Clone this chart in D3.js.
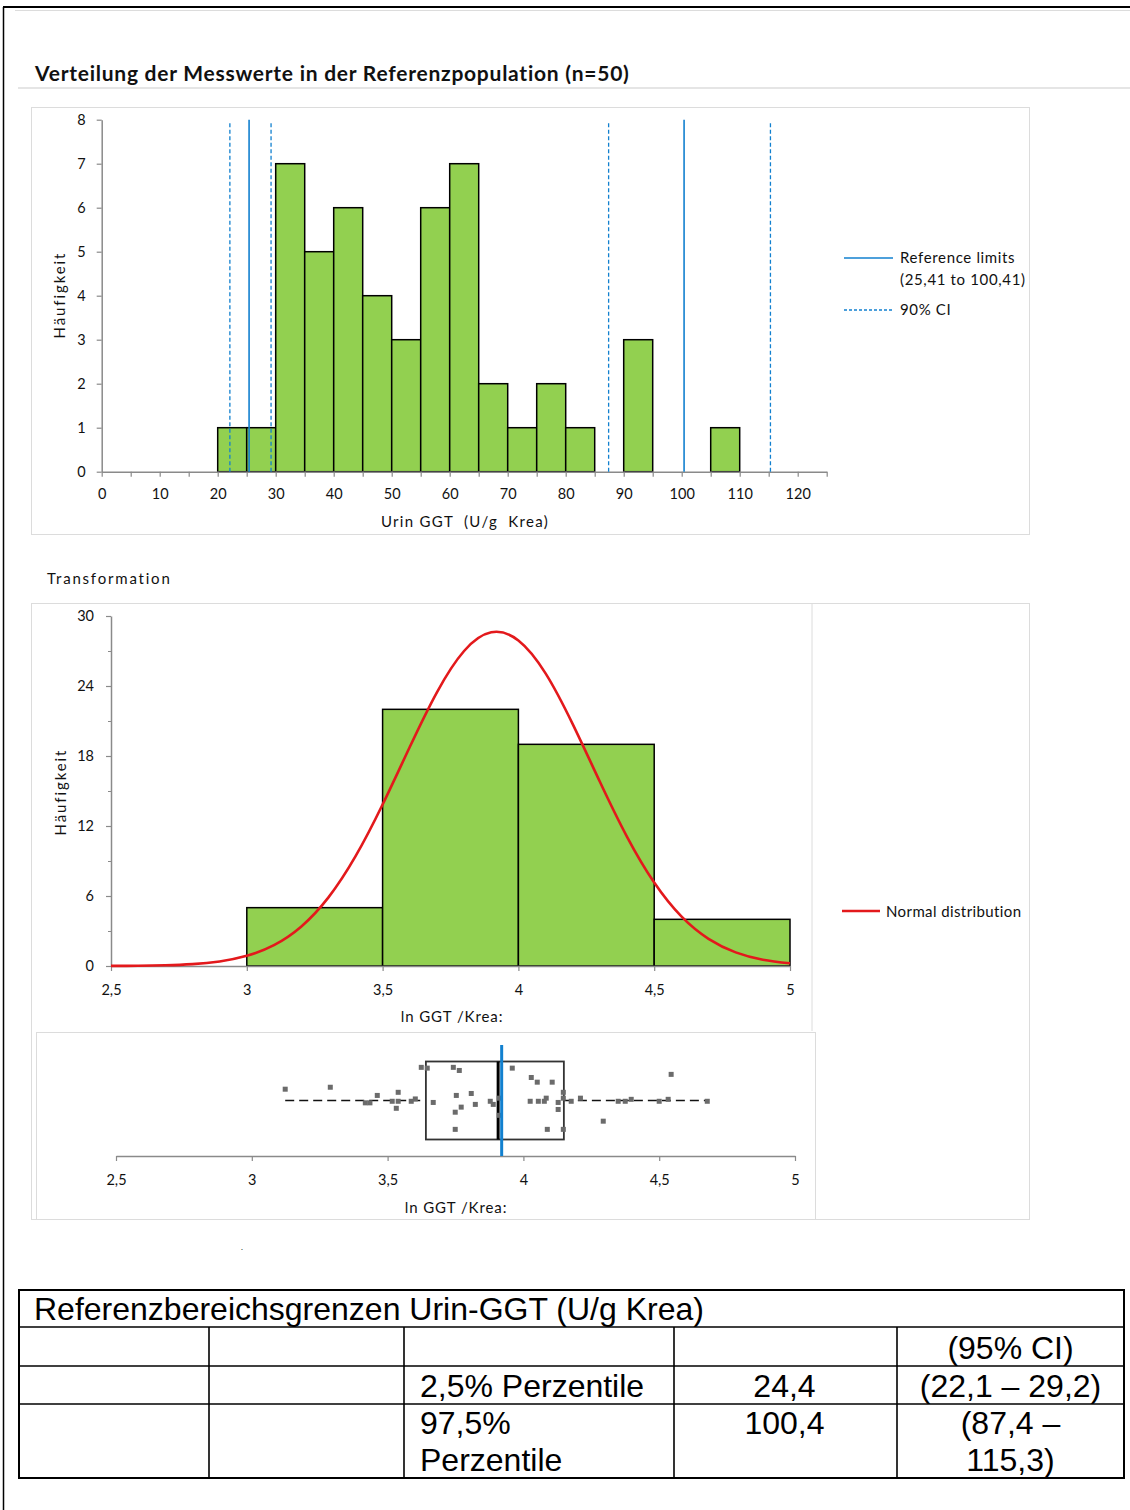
<!DOCTYPE html>
<html>
<head>
<meta charset="utf-8">
<script src="https://cdn.jsdelivr.net/npm/d3@7"></script>
<style>
  body { margin: 0; background: #fff; }
  svg text { font-family: Lato, "Open Sans", sans-serif; fill: #111; }
  .tbl text { font-family: "Liberation Sans", Arial, sans-serif; fill: #000; }
</style>
</head>
<body>
<svg id="page" width="1130" height="1510"></svg>
<script>
// ---- Raw values: histogram of Urin GGT (bins of 5 U/g Krea) ----
const rawBinStarts = [20, 25, 30, 35, 40, 45, 50, 55, 60, 65, 70, 75, 80, 85, 90, 95, 100, 105];
const rawCounts    = [ 1,  1,  7,  5,  6,  4,  3,  6,  7,  2,  1,  2,  1,  0,  3,  0,   0,   1];
const rawBinWidth  = 5;
const rawXTickValues = d3.range(0, 126, 5);
const rawYTickValues = [0, 1, 2, 3, 4, 5, 6, 7, 8];
const referenceLimits = [25.41, 100.41];
const ciBounds = [22.1, 29.2, 87.4, 115.3];

// ---- ln-transformed values: histogram + fitted normal curve ----
const lnBinStarts = [3, 3.5, 4, 4.5];
const lnCounts    = [5, 22, 19, 4];
const lnBinWidth  = 0.5;
const lnXTickValues = [2.5, 3, 3.5, 4, 4.5, 5];
const lnYTickValues = [0, 6, 12, 18, 24, 30];
const lnYMinorTicks = [3, 9, 15, 21, 27];
const normalX = [2.5, 2.6, 2.7, 2.8, 2.9, 3.0, 3.1, 3.2, 3.3, 3.4, 3.5, 3.6, 3.7, 3.8, 3.9,
                 4.0, 4.1, 4.2, 4.3, 4.4, 4.5, 4.6, 4.7, 4.8, 4.9, 5.0];
const normalY = [0.01, 0.02, 0.06, 0.16, 0.39, 0.87, 1.79, 3.37, 5.86, 9.39, 13.84, 18.77, 23.46, 27.0, 28.6,
                 27.9, 25.08, 20.73, 15.79, 11.07, 7.15, 4.25, 2.33, 1.17, 0.54, 0.23];

// ---- Box plot of ln values with jittered points ----
const lnValues = [3.123, 3.289, 3.418, 3.435, 3.462, 3.517, 3.532, 3.539, 3.539, 3.587,
                  3.602, 3.624, 3.646, 3.668, 3.742, 3.764, 3.753, 3.808, 3.771, 3.749,
                  3.823, 3.749, 3.878, 3.889, 3.911, 3.911, 3.959, 4.029, 4.051, 4.106,
                  4.025, 4.055, 4.077, 4.084, 4.088, 4.128, 4.128, 4.147, 4.147, 4.147,
                  4.176, 4.210, 4.294, 4.349, 4.375, 4.397, 4.500, 4.533, 4.544, 4.677];
const lnJitter = [0.29, 0.34, -0.06, -0.06, 0.13, -0.02, -0.20, 0.21, -0.02, -0.02,
                  0.04, 0.85, 0.83, -0.05, 0.85, 0.77, 0.13, 0.18, -0.17, -0.30,
                  -0.10, -0.74, -0.02, -0.10, 0.06, -0.38, 0.83, 0.59, 0.47, 0.47,
                  -0.02, -0.02, -0.02, 0.06, -0.74, -0.05, -0.23, 0.21, 0.06, -0.74,
                  -0.02, 0.06, -0.53, -0.02, -0.02, 0.03, -0.02, 0.03, 0.67, -0.02];
const boxQuartiles = [3.641, 3.907, 4.149];   // Q1, median, Q3
const whiskerEnds  = [3.123, 4.677];
const lnMean = 3.92;

// ---- Reference interval table ----
const tableTitle = "Referenzbereichsgrenzen Urin-GGT (U/g Krea)";
const tableHeader = ["", "", "", "", "(95% CI)"];
const tableRows = [
  ["", "", ["2,5% Perzentile"], ["24,4"], ["(22,1 \u2013 29,2)"]],
  ["", "", ["97,5%", "Perzentile"], ["100,4"], ["(87,4 \u2013", "115,3)"]]
];

const de = d3.formatLocale({ decimal: ",", thousands: ".", grouping: [3], currency: ["", " \u20ac"] });
const fmt = de.format("~g");

const svg = d3.select("#page");
const axisGray = "#8a8a8a";
const frameGray = "#dcdcdc";
const green = "#92d050";
const blue = "#1280cf";
const red = "#e3191c";

// ---------- page frame ----------
svg.append("line").attr("x1", 3).attr("x2", 1130).attr("y1", 7).attr("y2", 7).attr("stroke", "#000").attr("stroke-width", 2);
svg.append("line").attr("x1", 3.5).attr("x2", 3.5).attr("y1", 7).attr("y2", 1510).attr("stroke", "#000").attr("stroke-width", 1.5);
svg.append("line").attr("x1", 15).attr("x2", 1130).attr("y1", 10.5).attr("y2", 10.5).attr("stroke", frameGray).attr("stroke-width", 1);
svg.append("line").attr("x1", 18).attr("x2", 1130).attr("y1", 88).attr("y2", 88).attr("stroke", frameGray).attr("stroke-width", 1.5);

svg.append("text").attr("x", 35).attr("y", 81)
  .style("font-size", "21px").style("font-weight", 700).style("letter-spacing", "0.75px")
  .text("Verteilung der Messwerte in der Referenzpopulation (n=50)");

function styleAxis(g) {
  g.select(".domain").attr("stroke", axisGray).attr("stroke-width", 1.5);
  g.selectAll(".tick line").attr("stroke", axisGray).attr("stroke-width", 1.2);
  g.selectAll(".tick text").style("font-size", "14.5px").style("font-family", "Lato, sans-serif").attr("fill", "#111");
}

// ---------- Chart 1: raw histogram ----------
svg.append("rect").attr("x", 31.5).attr("y", 107.5).attr("width", 998).attr("height", 427)
  .attr("fill", "none").attr("stroke", frameGray);

const x1 = d3.scaleLinear().domain([0, 125]).range([101.7, 826.7]);
const y1 = d3.scaleLinear().domain([0, 8]).range([471.7, 119.7]);

svg.append("g").selectAll("rect").data(rawBinStarts.map((s, i) => ({ s, c: rawCounts[i] })).filter(d => d.c > 0))
  .join("rect")
  .attr("x", d => x1(d.s)).attr("width", d => x1(d.s + rawBinWidth) - x1(d.s))
  .attr("y", d => y1(d.c)).attr("height", d => y1(0) - y1(d.c))
  .attr("fill", green).attr("stroke", "#000").attr("stroke-width", 1.5);

const gx1 = svg.append("g").attr("transform", `translate(0,${y1(0)})`)
  .call(d3.axisBottom(x1).tickValues(rawXTickValues).tickSize(5).tickSizeOuter(0).tickPadding(12)
    .tickFormat(d => d % 10 === 0 ? fmt(d) : ""));
styleAxis(gx1);
const gy1 = svg.append("g").attr("transform", `translate(${x1(0)},0)`)
  .call(d3.axisLeft(y1).tickValues(rawYTickValues).tickSize(5).tickSizeOuter(0).tickPadding(11).tickFormat(fmt));
styleAxis(gy1);

// reference limits (solid) and their 90% confidence bounds (dashed)
svg.append("g").selectAll("line").data(referenceLimits).join("line")
  .attr("x1", d => x1(d)).attr("x2", d => x1(d))
  .attr("y1", y1(0)).attr("y2", y1(8))
  .attr("stroke", blue).attr("stroke-width", 1.6);
svg.append("g").selectAll("line").data(ciBounds).join("line")
  .attr("x1", d => x1(d)).attr("x2", d => x1(d))
  .attr("y1", y1(0)).attr("y2", y1(8) + 3)
  .attr("stroke", blue).attr("stroke-width", 1.3).attr("stroke-dasharray", "4,2.5");

svg.append("text").attr("transform", "translate(65,295) rotate(-90)").attr("text-anchor", "middle")
  .style("font-size", "15px").style("letter-spacing", "1.9px").text("Häufigkeit");
svg.append("text").attr("x", 465).attr("y", 527).attr("text-anchor", "middle")
  .style("font-size", "15px").style("letter-spacing", "1.3px").style("white-space", "pre")
  .text("Urin GGT  (U/g  Krea)");

// legend 1
svg.append("line").attr("x1", 844).attr("x2", 893).attr("y1", 258).attr("y2", 258).attr("stroke", blue).attr("stroke-width", 1.6);
svg.append("line").attr("x1", 844).attr("x2", 893).attr("y1", 310).attr("y2", 310).attr("stroke", blue).attr("stroke-width", 1.3).attr("stroke-dasharray", "3,2");
const leg1 = svg.append("g").style("font-size", "15px").style("letter-spacing", "0.65px");
leg1.append("text").attr("x", 900).attr("y", 263).text("Reference limits");
leg1.append("text").attr("x", 900).attr("y", 285).text("(25,41 to 100,41)");
leg1.append("text").attr("x", 900).attr("y", 315).text("90% CI");

// ---------- Chart 2: ln-transformed histogram ----------
svg.append("text").attr("x", 47).attr("y", 584).style("font-size", "15px").style("letter-spacing", "1.8px").text("Transformation");

svg.append("rect").attr("x", 31.5).attr("y", 603.5).attr("width", 998).attr("height", 616)
  .attr("fill", "none").attr("stroke", frameGray);
svg.append("line").attr("x1", 812).attr("x2", 812).attr("y1", 603.5).attr("y2", 1031).attr("stroke", frameGray);

const x2 = d3.scaleLinear().domain([2.5, 5]).range([111, 790]);
const y2 = d3.scaleLinear().domain([0, 30]).range([966, 616]);

svg.append("g").selectAll("rect").data(lnBinStarts.map((s, i) => ({ s, c: lnCounts[i] })))
  .join("rect")
  .attr("x", d => x2(d.s)).attr("width", d => x2(d.s + lnBinWidth) - x2(d.s))
  .attr("y", d => y2(d.c)).attr("height", d => y2(0) - y2(d.c))
  .attr("fill", green).attr("stroke", "#000").attr("stroke-width", 1.5);

const gx2 = svg.append("g").attr("transform", `translate(0,${y2(0)})`)
  .call(d3.axisBottom(x2).tickValues(lnXTickValues).tickSize(5).tickSizeOuter(0).tickPadding(14).tickFormat(fmt));
styleAxis(gx2);
const gy2 = svg.append("g").attr("transform", `translate(${x2(2.5)},0)`)
  .call(d3.axisLeft(y2).tickValues(lnYTickValues).tickSize(5).tickSizeOuter(0).tickPadding(12).tickFormat(fmt));
styleAxis(gy2);
svg.append("g").attr("transform", `translate(${x2(2.5)},0)`)
  .call(d3.axisLeft(y2).tickValues(lnYMinorTicks).tickSize(3).tickFormat(""))
  .call(g => { g.select(".domain").remove(); g.selectAll(".tick line").attr("stroke", axisGray); });

const normalLine = d3.line().x(d => x2(d[0])).y(d => y2(d[1])).curve(d3.curveNatural);
svg.append("path").datum(normalX.map((x, i) => [x, normalY[i]]))
  .attr("d", normalLine).attr("fill", "none").attr("stroke", red).attr("stroke-width", 2.6);

svg.append("text").attr("transform", "translate(66,792) rotate(-90)").attr("text-anchor", "middle")
  .style("font-size", "15px").style("letter-spacing", "1.9px").text("Häufigkeit");
svg.append("text").attr("x", 452).attr("y", 1022).attr("text-anchor", "middle")
  .style("font-size", "15px").style("letter-spacing", "0.9px").text("ln GGT /Krea:");

svg.append("line").attr("x1", 842).attr("x2", 880).attr("y1", 911).attr("y2", 911).attr("stroke", red).attr("stroke-width", 2.6);
svg.append("text").attr("x", 886).attr("y", 917).style("font-size", "15px").style("letter-spacing", "0.4px").text("Normal distribution");

// ---------- Box plot ----------
svg.append("rect").attr("x", 36.5).attr("y", 1032.5).attr("width", 779).attr("height", 187)
  .attr("fill", "#fff").attr("stroke", frameGray);

const xb = d3.scaleLinear().domain([2.5, 5]).range([116, 795]);
const yb = d3.scaleLinear().domain([-1, 1]).range([1139.5, 1061.5]);

const gxb = svg.append("g").attr("transform", "translate(0,1156)")
  .call(d3.axisBottom(xb).tickValues(lnXTickValues).tickSize(5).tickSizeOuter(0).tickPadding(14).tickFormat(fmt));
styleAxis(gxb);

// whiskers
svg.append("g").selectAll("line").data([[whiskerEnds[0], boxQuartiles[0]], [boxQuartiles[2], whiskerEnds[1]]]).join("line")
  .attr("x1", d => xb(d[0])).attr("x2", d => xb(d[1]))
  .attr("y1", yb(0)).attr("y2", yb(0))
  .attr("stroke", "#111").attr("stroke-width", 1.6).attr("stroke-dasharray", "9,5");
// interquartile box and median
svg.append("rect").attr("x", xb(boxQuartiles[0])).attr("y", yb(1))
  .attr("width", xb(boxQuartiles[2]) - xb(boxQuartiles[0])).attr("height", yb(-1) - yb(1))
  .attr("fill", "none").attr("stroke", "#333").attr("stroke-width", 1.8);
svg.append("line").attr("x1", xb(boxQuartiles[1])).attr("x2", xb(boxQuartiles[1]))
  .attr("y1", yb(1)).attr("y2", yb(-1)).attr("stroke", "#000").attr("stroke-width", 3);
// individual values
svg.append("g").selectAll("rect").data(lnValues.map((v, i) => [v, lnJitter[i]])).join("rect")
  .attr("x", d => xb(d[0]) - 2.5).attr("y", d => yb(d[1]) - 2.5)
  .attr("width", 5).attr("height", 5).attr("fill", "#6b6b6b");
// mean
svg.append("line").attr("x1", xb(lnMean)).attr("x2", xb(lnMean))
  .attr("y1", 1045).attr("y2", 1156).attr("stroke", blue).attr("stroke-width", 3);

svg.append("text").attr("x", 456).attr("y", 1213).attr("text-anchor", "middle")
  .style("font-size", "15px").style("letter-spacing", "0.9px").text("ln GGT /Krea:");
svg.append("text").attr("x", 241).attr("y", 1250).style("font-size", "8px").attr("fill", "#777").text(".");

// ---------- Table ----------
const tbl = svg.append("g").attr("class", "tbl");
const colEdges = [19, 209, 404, 674, 897, 1124];
const rowEdges = [1290, 1327, 1366, 1404, 1478];
tbl.append("rect").attr("x", colEdges[0]).attr("y", rowEdges[0])
  .attr("width", colEdges[5] - colEdges[0]).attr("height", rowEdges[4] - rowEdges[0])
  .attr("fill", "none").attr("stroke", "#000").attr("stroke-width", 2);
tbl.selectAll("line.h").data(rowEdges.slice(1, 4)).join("line").attr("class", "h")
  .attr("x1", colEdges[0]).attr("x2", colEdges[5]).attr("y1", d => d).attr("y2", d => d)
  .attr("stroke", "#000").attr("stroke-width", 1.6);
tbl.selectAll("line.v").data(colEdges.slice(1, 5)).join("line").attr("class", "v")
  .attr("x1", d => d).attr("x2", d => d).attr("y1", rowEdges[1]).attr("y2", rowEdges[4])
  .attr("stroke", "#000").attr("stroke-width", 1.6);

tbl.append("text").attr("x", 34).attr("y", 1320).style("font-size", "32px").text(tableTitle);
tbl.append("text").attr("x", (colEdges[4] + colEdges[5]) / 2).attr("y", 1359)
  .attr("text-anchor", "middle").style("font-size", "32px").text(tableHeader[4]);

const rowBase = [1397, 1434];
tableRows.forEach((row, r) => {
  row.forEach((cell, c) => {
    if (!cell || !cell.length) return;
    cell.forEach((line, k) => {
      const t = tbl.append("text").attr("y", rowBase[r] + k * 37).style("font-size", "32px").text(line);
      if (c === 2) t.attr("x", colEdges[2] + 16);
      else t.attr("x", (colEdges[c] + colEdges[c + 1]) / 2 + (c === 3 ? -1 : 0)).attr("text-anchor", "middle");
    });
  });
});
</script>
</body>
</html>
